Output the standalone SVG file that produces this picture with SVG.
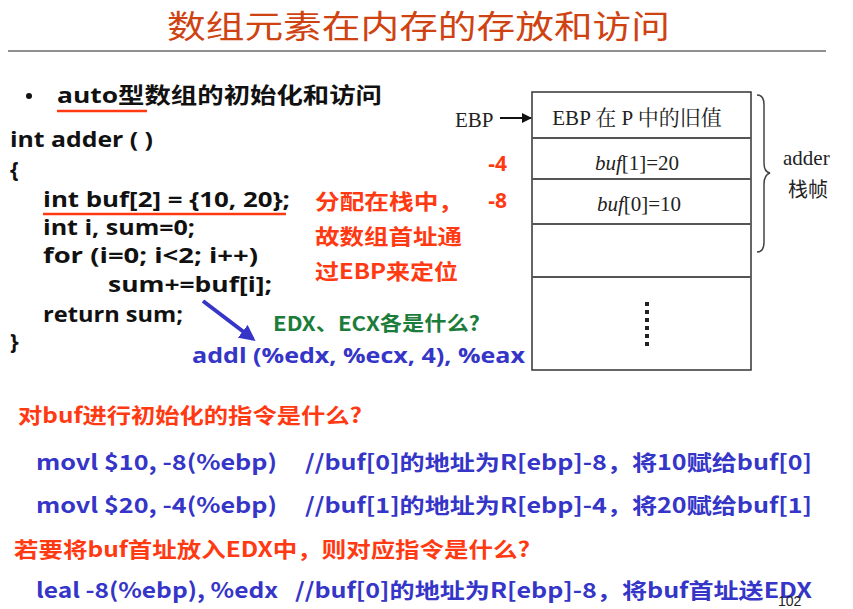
<svg xmlns="http://www.w3.org/2000/svg" width="853" height="609" viewBox="0 0 853 609">
  <defs>
    <style>
      .sans { font-family: "Open Sans", "Noto Sans CJK SC", sans-serif; font-weight: bold; }
      .cjk { font-family: "Noto Sans CJK SC", "Noto Sans", sans-serif; font-weight: bold; }
      .serif { font-family: "Liberation Serif", "Noto Serif CJK SC", "Noto Sans CJK SC", serif; fill: #222; font-size: 21px; }
      .title { fill: #CF4312; font-size: 32px; font-weight: normal; }
      .code { fill: #111; font-size: 22px; }
      .red { fill: #FF3A12; }
      .blue { fill: #3535C8; }
      .green { fill: #1C7D3B; }
      .cell { fill: none; stroke: #333; stroke-width: 1.5; }
      .row { stroke: #555; stroke-width: 2; }
    </style>
    <marker id="blueHead" viewBox="0 0 10 10" refX="8" refY="5" markerWidth="4" markerHeight="4" orient="auto">
      <path d="M0,0 L10,5 L0,10 z" fill="#3535C8"/>
    </marker>
    <marker id="blackHead" viewBox="0 0 10 10" refX="9" refY="5" markerWidth="5" markerHeight="5" orient="auto">
      <path d="M0,0 L10,5 L0,10 z" fill="#111"/>
    </marker>
  </defs>

  <rect width="853" height="609" fill="#fff"/>

  <!-- heading -->
  <g id="title">
    <text class="cjk title" x="167" y="38" textLength="503" lengthAdjust="spacingAndGlyphs">数组元素在内存的存放和访问</text>
    <line x1="8" y1="51" x2="826" y2="51" stroke="#222" stroke-width="1.2"/>
  </g>

  <g id="subtitle">
    <circle cx="29" cy="96" r="3" fill="#111"/>
    <text class="sans code" x="57" y="103" textLength="325" lengthAdjust="spacingAndGlyphs">auto型数组的初始化和访问</text>
    <line x1="57" y1="111" x2="147" y2="111" stroke="#FF3A12" stroke-width="2.5"/>
  </g>

  <!-- C source -->
  <g id="source" class="sans code">
    <text x="10" y="147" textLength="143" lengthAdjust="spacingAndGlyphs">int adder ( )</text>
    <text x="10" y="177">{</text>
    <text x="43" y="207" textLength="247" lengthAdjust="spacingAndGlyphs">int buf[2] = {10, 20};</text>
    <text x="43" y="235" textLength="152" lengthAdjust="spacingAndGlyphs">int i, sum=0;</text>
    <text x="43" y="263" textLength="215" lengthAdjust="spacingAndGlyphs">for (i=0; i&lt;2; i++)</text>
    <text x="108" y="292" textLength="164" lengthAdjust="spacingAndGlyphs">sum+=buf[i];</text>
    <text x="43" y="322" textLength="140" lengthAdjust="spacingAndGlyphs">return sum;</text>
    <text x="10" y="349">}</text>
    <line x1="43" y1="214" x2="286" y2="214" stroke="#FF3A12" stroke-width="2.5"/>
  </g>

  <g id="note-stack" class="cjk red" font-size="21">
    <text x="315" y="209" textLength="148" lengthAdjust="spacingAndGlyphs">分配在栈中，</text>
    <text x="315" y="244" textLength="147" lengthAdjust="spacingAndGlyphs">故数组首址通</text>
    <text x="315" y="279" textLength="143" lengthAdjust="spacingAndGlyphs">过EBP来定位</text>
  </g>

  <g id="offsets" class="sans red" font-size="21">
    <text x="507" y="171" text-anchor="end">-4</text>
    <text x="507" y="208" text-anchor="end">-8</text>
  </g>

  <g id="question-regs">
    <text class="cjk green" x="273" y="331" font-size="20" textLength="207" lengthAdjust="spacingAndGlyphs">EDX、ECX各是什么?</text>
  </g>

  <g id="addl">
    <text class="sans blue" x="192" y="363" font-size="22" textLength="333" lengthAdjust="spacingAndGlyphs">addl (%edx, %ecx, 4), %eax</text>
  </g>

  <!-- stack frame -->
  <g id="stack-frame">
    <rect class="cell" x="532" y="92" width="219" height="278"/>
    <line class="row" x1="532" y1="138" x2="751" y2="138"/>
    <line class="row" x1="532" y1="179" x2="751" y2="179"/>
    <line class="row" x1="532" y1="224" x2="751" y2="224"/>
    <line class="row" x1="532" y1="277" x2="751" y2="277"/>
    <text class="serif" x="637" y="125" text-anchor="middle">EBP 在 P 中的旧值</text>
    <text class="serif" x="637" y="170" text-anchor="middle"><tspan font-style="italic">buf</tspan>[1]=20</text>
    <text class="serif" x="639" y="211" text-anchor="middle"><tspan font-style="italic">buf</tspan>[0]=10</text>
    <g fill="#222">
      <rect x="645" y="302" width="4" height="4"/>
      <rect x="645" y="310" width="4" height="4"/>
      <rect x="645" y="318" width="4" height="4"/>
      <rect x="645" y="326" width="4" height="4"/>
      <rect x="645" y="334" width="4" height="4"/>
      <rect x="645" y="342" width="4" height="4"/>
    </g>
  </g>

  <g id="ebp-label">
    <text class="serif" x="455" y="127">EBP</text>
  </g>

  <g id="frame-brace">
    <path d="M757,95 Q764,95 764,105 L764,163 Q764,172 770,173 Q764,175 764,184 L764,242 Q764,252 757,252" fill="none" stroke="#444" stroke-width="1.5"/>
    <text class="serif" x="783" y="165" font-size="19">adder</text>
    <text x="788" y="197" font-size="20" fill="#222" font-family="Noto Sans CJK SC, sans-serif">栈帧</text>
  </g>

  <!-- connectors -->
  <g id="connectors">
    <line x1="500" y1="118" x2="531" y2="118" stroke="#111" stroke-width="2" marker-end="url(#blackHead)"/>
    <line x1="203" y1="301" x2="253" y2="339" stroke="#3535C8" stroke-width="4" marker-end="url(#blueHead)"/>
  </g>

  <!-- questions and answers -->
  <g id="init-question">
    <text class="cjk red" x="18" y="423" font-size="21" textLength="344" lengthAdjust="spacingAndGlyphs">对buf进行初始化的指令是什么?</text>
  </g>
  <g id="init-answers" class="cjk blue" font-size="21">
    <text x="36" y="470" textLength="241" lengthAdjust="spacingAndGlyphs">movl $10, -8(%ebp)</text>
    <text x="305" y="470" textLength="507" lengthAdjust="spacingAndGlyphs">//buf[0]的地址为R[ebp]-8，将10赋给buf[0]</text>
    <text x="36" y="513" textLength="241" lengthAdjust="spacingAndGlyphs">movl $20, -4(%ebp)</text>
    <text x="305" y="513" textLength="507" lengthAdjust="spacingAndGlyphs">//buf[1]的地址为R[ebp]-4，将20赋给buf[1]</text>
  </g>
  <g id="edx-question">
    <text class="cjk red" x="14" y="557" font-size="21" textLength="516" lengthAdjust="spacingAndGlyphs">若要将buf首址放入EDX中，则对应指令是什么?</text>
  </g>
  <g id="edx-answer" class="cjk blue" font-size="21">
    <text x="36" y="598" textLength="242" lengthAdjust="spacingAndGlyphs">leal -8(%ebp), %edx</text>
    <text x="295" y="598" textLength="517" lengthAdjust="spacingAndGlyphs">//buf[0]的地址为R[ebp]-8，将buf首址送EDX</text>
  </g>

  <g id="page-number">
    <text x="778" y="606" font-size="14" fill="#222" font-family="Liberation Sans, sans-serif">102</text>
  </g>
</svg>
